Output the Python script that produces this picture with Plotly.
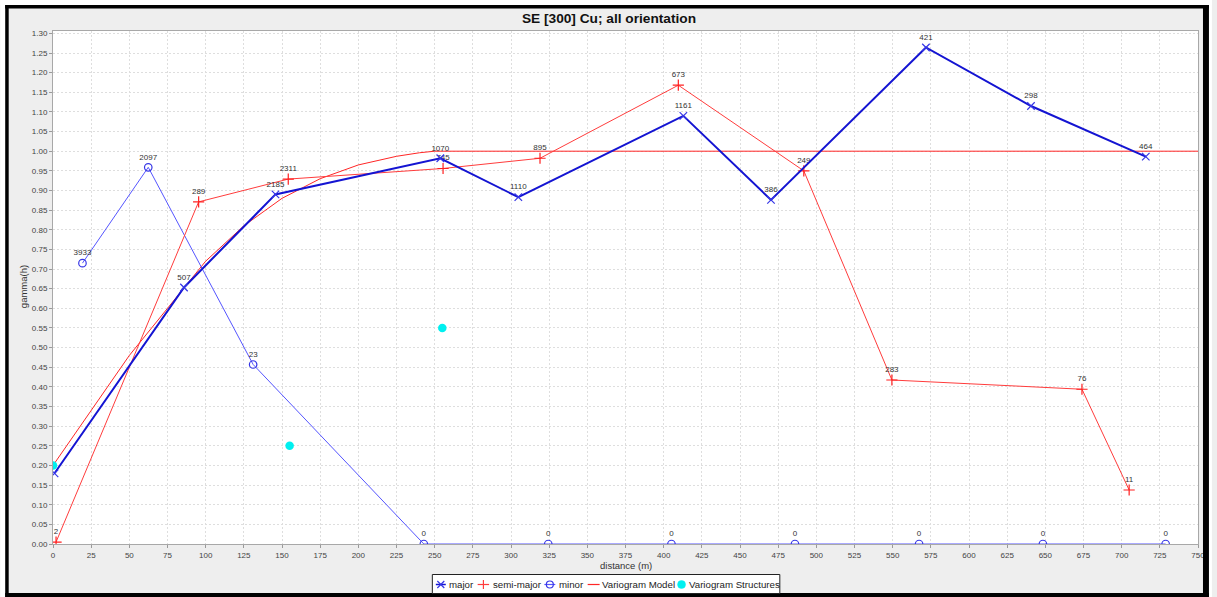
import plotly.graph_objects as go

# ---- experimental variogram, major direction ----
major_dist = [1.0, 85.8, 145.7, 253.7, 304.8, 412.9, 470.3, 571.8, 640.6, 715.8]
major_gamma = [0.180, 0.653, 0.890, 0.982, 0.883, 1.090, 0.876, 1.264, 1.115, 0.986]
major_pairs = ["", "507", "2185", "1070", "1110", "1161", "386", "421", "298", "464"]

# ---- semi-major direction ----
semi_dist = [2.0, 95.4, 154.1, 255.5, 319.0, 409.6, 491.8, 549.5, 674.0, 704.9]
semi_gamma = [0.005, 0.871, 0.929, 0.956, 0.982, 1.168, 0.950, 0.4175, 0.394, 0.1375]
semi_pairs = ["2", "289", "2311", "745", "895", "673", "249", "283", "76", "11"]

# ---- minor direction ----
minor_dist = [19.3, 62.4, 131.1, 242.9, 324.4, 405.1, 486.0, 567.3, 648.4, 728.8]
minor_gamma = [0.715, 0.959, 0.457, 0.0, 0.0, 0.0, 0.0, 0.0, 0.0, 0.0]
minor_pairs = ["3933", "2097", "23", "0", "0", "0", "0", "0", "0", "0"]

# ---- fitted model curve ----
model_dist = [0, 25, 50, 75, 100, 125, 150, 175, 200, 225, 240, 250, 255, 750]
model_gamma = [0.20, 0.34, 0.48, 0.60, 0.72, 0.81, 0.88, 0.93, 0.965, 0.987, 0.996, 1.00, 1.00, 1.00]

# ---- model structures (nugget, structure 1, structure 2) ----
struct_dist = [0, 155, 255]
struct_gamma = [0.20, 0.25, 0.55]

x_ticks = list(range(0, 751, 25))
y_ticks = [round(i * 0.05, 2) for i in range(27)]

W, H = 1217, 597
L, R, T, B = 53, 14, 31, 53
PW, PH = W - L - R, H - T - B
FONT = "Liberation Sans, Arial, sans-serif"


def fx(xp):
    return (xp - L) / PW


def fy(yp):
    return (H - B - yp) / PH


BLUE_DARK = "#1414d2"
BLUE_MARK = "#3636e6"
BLUE_THIN = "#5555ff"
RED_SEMI = "#ff3c3c"
RED_MODEL = "#ff2626"
CYAN = "#00f0f0"
LABEL_FONT = dict(family=FONT, size=8, color="#333333")

fig = go.Figure()

fig.add_trace(go.Scatter(
    x=model_dist, y=model_gamma, mode="lines", name="Variogram Model",
    line=dict(color=RED_MODEL, width=1)))

fig.add_trace(go.Scatter(
    x=minor_dist, y=minor_gamma, mode="lines+markers+text", name="minor",
    text=minor_pairs, textposition="top center", textfont=LABEL_FONT,
    line=dict(color=BLUE_THIN, width=1),
    marker=dict(symbol="circle-open", size=7.5, color=BLUE_MARK, line=dict(width=1.2))))

fig.add_trace(go.Scatter(
    x=semi_dist, y=semi_gamma, mode="lines+markers+text", name="semi-major",
    text=semi_pairs, textposition="top center", textfont=LABEL_FONT,
    line=dict(color=RED_SEMI, width=1),
    marker=dict(symbol="cross-thin-open", size=8, color="#ff2020", line=dict(width=1.2, color="#ff2020"))))

fig.add_trace(go.Scatter(
    x=major_dist, y=major_gamma, mode="lines+markers+text", name="major",
    text=major_pairs, textposition="top center", textfont=LABEL_FONT,
    line=dict(color=BLUE_DARK, width=2),
    marker=dict(symbol="x-thin-open", size=7.5, color=BLUE_MARK, line=dict(width=1.2, color=BLUE_MARK))))

fig.add_trace(go.Scatter(
    x=struct_dist, y=struct_gamma, mode="markers", name="Variogram Structures",
    marker=dict(symbol="circle", size=8.5, color=CYAN)))

shapes = []


def block(x0, y0, x1, y1, color):
    shapes.append(dict(type="rect", xref="paper", yref="paper",
                       x0=fx(x0), x1=fx(x1), y0=fy(y0), y1=fy(y1),
                       fillcolor=color, line=dict(width=0)))


# white margin outside the frame
block(0, 0, W, 5, "#ffffff")
block(0, 0, 5, H, "#ffffff")
block(1214, 0, W, H, "#ffffff")
# black frame
block(5, 5, 1214, 8.5, "#000000")
block(5, 5, 8.5, 597, "#000000")
block(1208, 5, 1214, 597, "#000000")
block(5, 593, 1214, 597, "#000000")

# legend box
LEG_Y = 584.5
shapes.append(dict(type="rect", xref="paper", yref="paper",
                   x0=fx(434), x1=fx(783), y0=fy(574.5), y1=fy(593.5),
                   fillcolor="#ffffff", line=dict(color="#222222", width=1)))


def seg(x0, x1, color, width=1.2):
    shapes.append(dict(type="line", xref="paper", yref="paper",
                       x0=fx(x0), x1=fx(x1), y0=fy(LEG_Y), y1=fy(LEG_Y),
                       line=dict(color=color, width=width)))


# major key: line with an x
seg(437.5, 447.5, BLUE_DARK, 1.5)
c, r = 442.5, 3.5
shapes.append(dict(type="path", xref="paper", yref="paper",
                   path=f"M {fx(c - r)} {fy(LEG_Y - r)} L {fx(c + r)} {fy(LEG_Y + r)} "
                        f"M {fx(c - r)} {fy(LEG_Y + r)} L {fx(c + r)} {fy(LEG_Y - r)}",
                   line=dict(color=BLUE_MARK, width=1.2)))
# semi-major key: line with a plus
seg(479.5, 491, RED_SEMI)
c, r = 485.3, 4.5
shapes.append(dict(type="path", xref="paper", yref="paper",
                   path=f"M {fx(c)} {fy(LEG_Y - r)} L {fx(c)} {fy(LEG_Y + r)}",
                   line=dict(color=RED_SEMI, width=1.2)))
# minor key: line with a circle
seg(546.5, 557.5, BLUE_THIN)
c, r = 552, 3.5
shapes.append(dict(type="circle", xref="paper", yref="paper",
                   x0=fx(c - r), x1=fx(c + r), y0=fy(LEG_Y - r), y1=fy(LEG_Y + r),
                   line=dict(color=BLUE_MARK, width=1.2)))
# model key
seg(590, 602, RED_MODEL)
# structures key
c, r = 684.3, 4
shapes.append(dict(type="circle", xref="paper", yref="paper",
                   x0=fx(c - r), x1=fx(c + r), y0=fy(LEG_Y - r), y1=fy(LEG_Y + r),
                   fillcolor=CYAN, line=dict(color=CYAN, width=0.5)))

annotations = []
LEG_FONT = dict(family=FONT, size=9.7, color="#222222")
for text, x_left in [("major", 449.5), ("semi-major", 493.5), ("minor", 560),
                     ("Variogram Model", 603), ("Variogram Structures", 691)]:
    annotations.append(dict(text=text, xref="paper", yref="paper", x=fx(x_left), y=fy(LEG_Y),
                            xanchor="left", yanchor="middle", showarrow=False, font=LEG_FONT,
                            borderpad=0))

# axis titles
annotations.append(dict(text="distance (m)", xref="paper", yref="paper", x=fx(628), y=fy(565),
                        xanchor="center", yanchor="middle", showarrow=False,
                        font=dict(family=FONT, size=9.5, color="#333333")))
annotations.append(dict(text="gamma(h)", xref="paper", yref="paper", x=fx(23), y=fy(287),
                        xanchor="center", yanchor="middle", showarrow=False, textangle=-90,
                        font=dict(family=FONT, size=9.5, color="#333333")))

axis_common = dict(
    showline=True, linecolor="#a8a8a8", linewidth=1, mirror=True,
    ticks="outside", ticklen=3, tickcolor="#9a9a9a", tickwidth=1,
    showgrid=True, gridcolor="#dedede", gridwidth=1, griddash="2px,2px",
    zeroline=False, tickfont=dict(family=FONT, size=8, color="#444444"),
)

fig.update_layout(
    width=W, height=H,
    margin=dict(l=L, r=R, t=T, b=B),
    paper_bgcolor="#eeeeee",
    plot_bgcolor="#ffffff",
    showlegend=False,
    title=dict(text="<b>SE [300] Cu; all orientation</b>", x=609 / W, xanchor="center",
               y=1 - 18.3 / H, yanchor="middle", yref="container",
               font=dict(family=FONT, size=13.7, color="#111111")),
    xaxis=dict(range=[0, 750], tickvals=x_ticks, ticktext=[str(v) for v in x_ticks], **axis_common),
    yaxis=dict(range=[0, 1.306], tickvals=y_ticks, ticktext=[f"{v:.2f}" for v in y_ticks], **axis_common),
    shapes=shapes,
    annotations=annotations,
)

fig.write_html("out.html")
